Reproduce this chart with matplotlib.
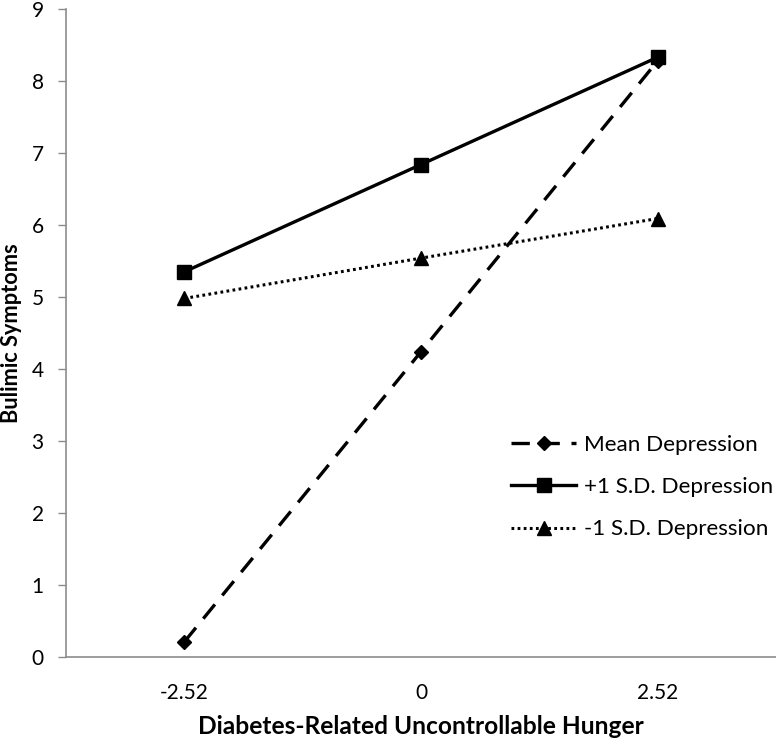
import matplotlib
matplotlib.use("Agg")
import matplotlib.pyplot as plt
from matplotlib.textpath import TextPath
from matplotlib.font_manager import FontProperties

categories = ["-2.52", "0", "2.52"]
mean_dep = [0.21, 4.24, 8.28]
plus_sd = [5.35, 6.84, 8.33]
minus_sd = [4.98, 5.54, 6.09]
y_ticks = [0, 1, 2, 3, 4, 5, 6, 7, 8, 9]
series_labels = ["Mean Depression", "+1 S.D. Depression", "-1 S.D. Depression"]
x_title = "Diabetes-Related Uncontrollable Hunger"
y_title = "Bulimic Symptoms"

plt.rcParams['font.family'] = ['Lato', 'DejaVu Sans']

fig = plt.figure(figsize=(7.76, 7.39), dpi=100)
renderer = fig.canvas.get_renderer()


def fit_size(text, target_px, weight='normal', base=15.0):
    t = fig.text(0, 0, text, fontsize=base, fontweight=weight)
    w = t.get_window_extent(renderer).width
    t.remove()
    return base * target_px / w


def fit_digit_height(target_px):
    # glyph height of "0" in points at size 1 (points -> pixels at 100 dpi)
    tp = TextPath((0, 0), "0", size=100, prop=FontProperties(family='Lato'))
    ext = tp.get_extents()
    h_per_pt = ext.height / 100 * 100 / 72
    return target_px / h_per_pt


tick_fs = 0.5 * (fit_size("-2.52", 48) + fit_digit_height(15.5))
xlab_fs = fit_size(x_title, 448, 'bold')
ylab_fs = fit_size(y_title, 180, 'bold')
leg_fs = fit_size(series_labels[0], 174)

ax_left, ax_right, ax_top, ax_bottom = 66, 776, 9, 657
ax_w, ax_h = ax_right - ax_left, ax_bottom - ax_top
ax = fig.add_axes([ax_left/776, 1-ax_bottom/739, ax_w/776, ax_h/739])

x = list(range(len(categories)))
ax.plot(x, mean_dep, color='black', lw=2.4, dashes=(5.5, 3.5), marker='D', ms=7,
        label=series_labels[0])
ax.plot(x, plus_sd, color='black', lw=2.4, linestyle='-', marker='s', ms=9.5,
        label=series_labels[1])
ax.plot(x, minus_sd, color='black', lw=2.2, dashes=(0.9, 1.1), marker='^', ms=9.5,
        label=series_labels[2])

ax.set_xlim(-0.5, 2.5)
ax.set_ylim(0, 9)
ax.set_xticks(x)
ax.set_xticklabels(categories)
ax.set_yticks(y_ticks)
ax.tick_params(axis='x', length=0, pad=19, labelsize=tick_fs)
ax.tick_params(axis='y', length=6, width=1, color='#8c8c8c', pad=10, labelsize=tick_fs)

for s in ['top', 'right']:
    ax.spines[s].set_visible(False)
for s in ['left', 'bottom']:
    ax.spines[s].set_color('#8c8c8c')
    ax.spines[s].set_linewidth(1.2)

ax.set_xlabel(x_title, fontsize=xlab_fs, fontweight='bold')
ax.xaxis.label.set_va('baseline')
ax.xaxis.set_label_coords(0.5, -(734 - ax_bottom) / ax_h)
ax.set_ylabel(y_title, fontsize=ylab_fs, fontweight='bold')
ax.yaxis.label.set_va('center')
ax.yaxis.set_label_coords(-(ax_left - 11) / ax_w, 0.5)

px_per_em = leg_fs * 100 / 72
ax.legend(loc='center left', bbox_to_anchor=(511/776, 1-487/739), bbox_transform=fig.transFigure,
          frameon=False, fontsize=leg_fs, handlelength=65/px_per_em, handletextpad=8/px_per_em,
          labelspacing=1.0, borderpad=0, borderaxespad=0)

fig.savefig('out.png', dpi=100)
